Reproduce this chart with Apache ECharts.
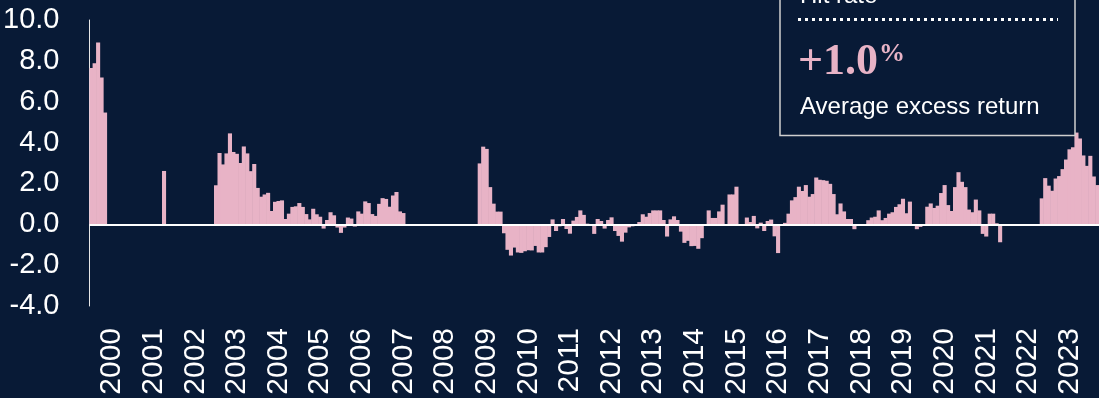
<!DOCTYPE html>
<html lang="en">

<head>
    <meta charset="UTF-8">
    <title>Excess return</title>
    <script src="https://cdn.jsdelivr.net/npm/echarts@6/dist/echarts.min.js"></script>
    <style>
        html, body {
            margin: 0;
            padding: 0;
            background: #081a36;
        }

        #main {
            width: 1099px;
            height: 398px;
        }
    </style>
</head>

<body>
    <div id="main"></div>
</body>
<script>
    // years shown on the axis, months per year
    var years = [2000, 2001, 2002, 2003, 2004, 2005, 2006, 2007, 2008, 2009, 2010, 2011,
        2012, 2013, 2014, 2015, 2016, 2017, 2018, 2019, 2020, 2021, 2022, 2023, 2024];
    var months = ['01', '02', '03', '04', '05', '06', '07', '08', '09', '10', '11', '12'];
    var monthCount = 291;

    // monthly excess return (%)
    var excess = [
        7.65, 7.88, 8.9, 7.18, 5.47, 0, 0, 0, 0, 0, 0, 0,
        0, 0, 0, 0, 0, 0, 0, 0, 0, 2.61, 0, 0,
        0, 0, 0, 0, 0, 0, 0, 0, 0, 0, 0, 0,
        1.91, 3.49, 2.93, 3.47, 4.45, 3.54, 3.45, 3.0, 3.81, 3.47, 2.6, 2.95,
        1.78, 1.35, 1.46, 1.54, 0.65, 1.1, 1.14, 1.17, 0.26, 0.52, 0.85, 0.88,
        1.04, 0.85, 0.5, 0.24, 0.76, 0.49, 0.37, -0.21, 0.21, 0.59, 0.44, -0.16,
        -0.42, -0.16, 0.33, 0.28, -0.11, 0.63, 0.52, 1.12, 1.04, 0.5, 0.41, 1.0,
        1.28, 1.24, 0.86, 1.41, 1.58, 0.63, 0.55, 0, 0, 0, 0, 0,
        0, 0, 0, 0, 0, 0, 0, 0, 0, 0, 0, 0,
        0, 0, 0, 0, 2.98, 3.8, 3.69, 1.82, 1.01, 0.62, 0.62, -0.44,
        -1.25, -1.53, -1.14, -1.38, -1.4, -1.32, -1.27, -1.28, -1.06, -1.38, -1.38, -1.12,
        -0.62, 0.24, -0.33, -0.1, 0.26, -0.23, -0.46, 0.18, 0.36, 0.68, 0.46, 0.03,
        -0.08, -0.47, 0.26, 0.16, -0.21, 0.21, 0.34, -0.33, -0.57, -0.85, -0.41, -0.15,
        -0.1, -0.06, 0.11, 0.49, 0.37, 0.55, 0.68, 0.68, 0.68, 0.21, -0.6, 0.24,
        0.39, 0.21, -0.36, -0.91, -0.81, -1.07, -1.06, -1.2, -0.68, 0, 0.68, 0.31,
        0.31, 0.63, 0.96, 0, 1.46, 1.46, 1.84, 0, 0, 0.33, 0.11, 0.41,
        -0.2, 0.08, -0.33, 0.16, 0.23, -0.59, -1.41, 0, 0.07, 0.52, 1.17, 1.33,
        1.84, 1.63, 1.92, 1.35, 1.48, 2.29, 2.18, 2.16, 2.13, 1.98, 1.48, 0.49,
        1.02, 0.63, 0.26, 0.26, -0.24, -0.05, 0, 0, 0.2, 0.33, 0.37, 0.68,
        0.2, 0.31, 0.52, 0.59, 0.85, 0.98, 1.25, 0.54, 1.11, 0, -0.24, -0.13,
        0, 0.86, 1.02, 0.8, 0.91, 1.53, 1.92, 0.94, 0.65, 1.82, 2.55, 2.08,
        1.82, 0.72, 0.59, 1.21, 0.68, -0.47, -0.6, 0.52, 0.52, 0.05, -0.88, 0,
        0, 0, 0, 0, 0, 0, 0, 0, 0, 0, 1.27, 2.26,
        1.89, 1.64, 2.24, 2.36, 2.7, 3.17, 3.67, 3.77, 4.49, 4.2, 3.37, 2.86,
        3.35, 2.34, 1.92
    ];

    var yTicks = [-4, -2, 0, 2, 4, 6, 8, 10];

    var categories = [];
    for (var i = 0; i < years.length; i++) {
        for (var j = 0; j < months.length; j++) {
            if (categories.length < monthCount) {
                categories.push(years[i] + '-' + months[j]);
            }
        }
    }

    var bg = '#081a36';
    var pink = '#e8b3c6';

    var chart = echarts.init(document.getElementById('main'));
    var option = {
        backgroundColor: bg,
        animation: false,
        grid: {
            left: 88,
            right: 0,
            top: 20,
            bottom: 92,
            containLabel: false
        },
        xAxis: {
            type: 'category',
            data: categories,
            axisLine: { show: false, onZero: false },
            axisTick: { show: false },
            axisLabel: {
                rotate: 90,
                margin: 22,
                color: '#ffffff',
                fontFamily: 'Liberation Sans, Arial, sans-serif',
                fontSize: 30,
                interval: function(index) {
                    return index % 12 === 6;
                },
                formatter: function(value) {
                    return value.slice(0, 4);
                }
            }
        },
        yAxis: {
            type: 'value',
            min: yTicks[0],
            max: yTicks[yTicks.length - 1],
            interval: 2,
            splitLine: { show: false },
            axisTick: { show: false },
            axisLine: {
                show: true,
                lineStyle: { color: '#e6e6e6', width: 1 }
            },
            axisLabel: {
                margin: 30,
                color: '#ffffff',
                fontFamily: 'Liberation Sans, Arial, sans-serif',
                fontSize: 29,
                formatter: function(v) {
                    return v.toFixed(1);
                }
            }
        },
        series: [{
            type: 'bar',
            data: excess,
            barWidth: '118%',
            itemStyle: { color: pink },
            markLine: {
                silent: true,
                symbol: 'none',
                label: { show: false },
                lineStyle: { color: '#ffffff', width: 2, type: 'solid' },
                data: [{ yAxis: 0 }]
            }
        }],
        graphic: [{
            type: 'rect',
            z: 100,
            shape: { x: 780, y: -20, width: 295, height: 155.5 },
            style: { fill: bg, stroke: '#cfcfcf', lineWidth: 1.5 }
        }, {
            type: 'text',
            z: 101,
            x: 800,
            y: -4,
            style: {
                text: 'Hit rate',
                fill: '#ffffff',
                font: '24px "Liberation Sans", Arial, sans-serif',
                verticalAlign: 'middle'
            }
        }, {
            type: 'line',
            z: 101,
            shape: { x1: 798, y1: 19.5, x2: 1058, y2: 19.5 },
            style: { stroke: '#ffffff', lineWidth: 3, lineDash: [3, 4] }
        }, {
            type: 'text',
            z: 101,
            x: 798,
            y: 63,
            style: {
                text: '+1.0',
                fill: pink,
                font: 'bold 44px "Liberation Serif", "Times New Roman", serif',
                verticalAlign: 'middle'
            }
        }, {
            type: 'text',
            z: 101,
            x: 879,
            y: 54,
            style: {
                text: '%',
                fill: pink,
                font: 'bold 26px "Liberation Serif", "Times New Roman", serif',
                verticalAlign: 'middle'
            }
        }, {
            type: 'text',
            z: 101,
            x: 800,
            y: 107,
            style: {
                text: 'Average excess return',
                fill: '#ffffff',
                font: '24px "Liberation Sans", Arial, sans-serif',
                verticalAlign: 'middle'
            }
        }]
    };
    chart.setOption(option);
</script>

</html>
